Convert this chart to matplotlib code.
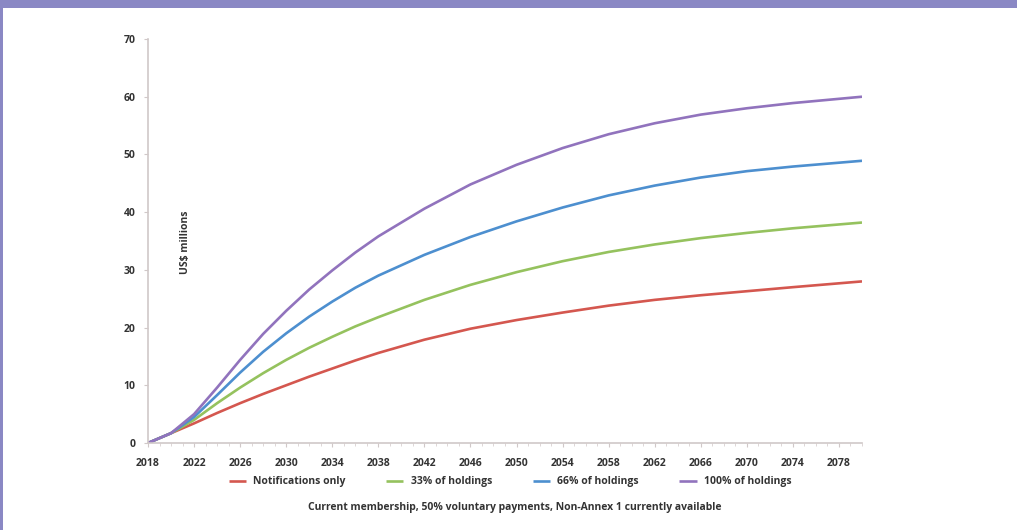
"""Projected revenue curves, US$ millions."""
import matplotlib.pyplot as plt
from matplotlib.patches import Rectangle

years = [2018, 2020, 2022, 2024, 2026, 2028, 2030, 2032, 2034, 2036, 2038,
         2042, 2046, 2050, 2054, 2058, 2062, 2066, 2070, 2074, 2080]

notifications = [0, 1.7, 3.4, 5.2, 6.9, 8.5, 10.0, 11.5, 12.9, 14.3, 15.6,
                 17.9, 19.8, 21.3, 22.6, 23.8, 24.8, 25.6, 26.3, 27.0, 28.0]
holdings_33 = [0, 1.7, 4.0, 6.9, 9.6, 12.1, 14.4, 16.5, 18.4, 20.2, 21.8,
               24.8, 27.4, 29.6, 31.5, 33.1, 34.4, 35.5, 36.4, 37.2, 38.2]
holdings_66 = [0, 1.7, 4.5, 8.3, 12.2, 15.8, 19.0, 21.9, 24.5, 26.9, 29.0,
               32.6, 35.7, 38.4, 40.8, 42.9, 44.6, 46.0, 47.1, 47.9, 48.9]
holdings_100 = [0, 1.7, 5.0, 9.6, 14.4, 18.9, 22.9, 26.6, 29.9, 33.0, 35.8,
                40.6, 44.8, 48.2, 51.1, 53.5, 55.4, 56.9, 58.0, 58.9, 60.0]

series = [
    ("Notifications only", notifications, "#d4574f"),
    ("33% of holdings", holdings_33, "#95c25e"),
    ("66% of holdings", holdings_66, "#4d8fcf"),
    ("100% of holdings", holdings_100, "#9173bd"),
]

x_ticks = list(range(2018, 2079, 4))
y_ticks = list(range(0, 71, 10))

plt.rcParams['font.family'] = ['Open Sans', 'DejaVu Sans']

fig = plt.figure(figsize=(10.17, 5.30), dpi=100)
fig.patch.set_facecolor('white')

# purple frame: band along the top, thin line on the left
fig.patches.append(Rectangle((0, 1 - 8 / 530), 1, 8 / 530, transform=fig.transFigure,
                             facecolor='#8a88c4', edgecolor='none', zorder=0))
fig.patches.append(Rectangle((0, 0), 3 / 1017, 1, transform=fig.transFigure,
                             facecolor='#8a88c4', edgecolor='none', zorder=0))

ax = fig.add_axes([148 / 1017, 87 / 530, 714 / 1017, 404 / 530])

for label, vals, color in series:
    ax.plot(years, vals, color=color, linewidth=1.9, label=label, solid_capstyle='butt')

ax.set_xlim(2018, 2080)
ax.set_ylim(0, 70)
ax.set_xticks(x_ticks)
ax.set_xticks(range(2018, 2081), minor=True)
ax.set_yticks(y_ticks)

for side in ['top', 'right']:
    ax.spines[side].set_visible(False)
for side in ['left', 'bottom']:
    ax.spines[side].set_color('#d0c8c8')
    ax.spines[side].set_linewidth(1.2)

ax.tick_params(axis='both', colors='#d0c8c8', length=3, width=0.8,
               labelcolor='#333333', labelsize=7.5)
ax.tick_params(axis='x', which='minor', colors='#d8d0d0', length=2)
ax.tick_params(axis='x', pad=8)
ax.tick_params(axis='y', pad=6)
for lbl in ax.get_xticklabels() + ax.get_yticklabels():
    lbl.set_fontweight('bold')

ax.text(0.053, 0.4975, "US$ millions", transform=ax.transAxes, rotation=90,
        fontsize=7.5, fontweight='bold', color='#333333', ha='center', va='center')

fig.legend(loc='center', bbox_to_anchor=(0.5015, 0.091), ncol=4, frameon=False,
           prop={'size': 7.5, 'weight': 'bold'}, handlelength=1.65,
           columnspacing=3.9, handletextpad=0.7, labelcolor='#333333')

fig.text(0.506, 0.043, "Current membership, 50% voluntary payments, Non-Annex 1 currently available",
         ha='center', va='center', fontsize=7.5, fontweight='bold', color='#333333')

fig.savefig("out.png", dpi=100)
